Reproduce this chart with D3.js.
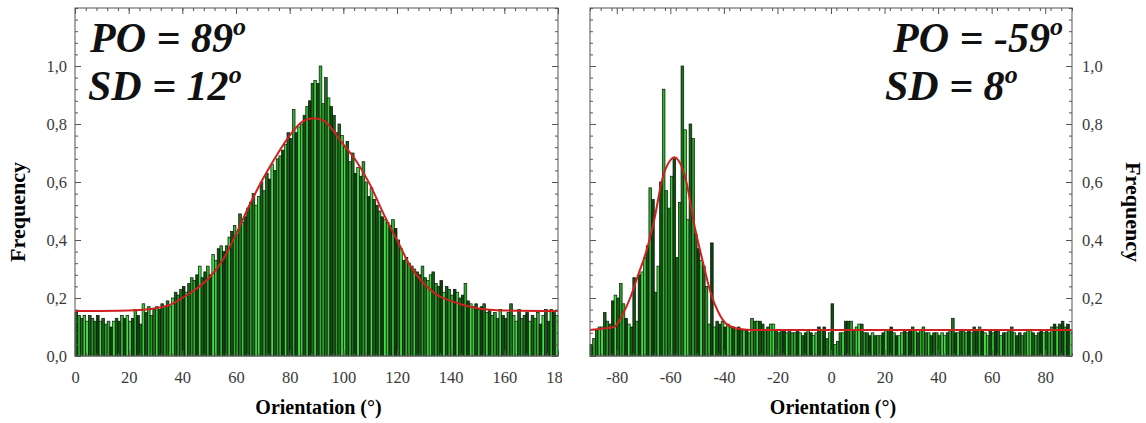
<!DOCTYPE html>
<html lang="en">
  <head>
    <meta charset="UTF-8" />
    <title>Orientation histograms</title>
    <script src="https://cdn.jsdelivr.net/npm/d3@7/dist/d3.min.js"></script>
    <style>
      body { margin: 0; background: #fff; }
      svg { display: block; font-family: 'Liberation Serif', 'DejaVu Serif', serif; }
    </style>
  </head>
  <body>
    <svg class="svg" width="1146" height="423"></svg>
    <script>
      // left panel: 1 degree bins, 0..179
      const leftBins = d3.range(0, 180);
      const leftFreq = [
        0.15, 0.14, 0.13, 0.14, 0.12, 0.14, 0.13, 0.12, 0.14, 0.12,
        0.13, 0.11, 0.12, 0.10, 0.12, 0.13, 0.12, 0.14, 0.13, 0.14,
        0.12, 0.13, 0.16, 0.14, 0.11, 0.18, 0.15, 0.17, 0.14, 0.16,
        0.17, 0.16, 0.18, 0.17, 0.19, 0.17, 0.20, 0.22, 0.21, 0.23,
        0.24, 0.22, 0.25, 0.27, 0.26, 0.28, 0.31, 0.27, 0.29, 0.31,
        0.28, 0.35, 0.33, 0.37, 0.38, 0.36, 0.38, 0.41, 0.43, 0.45,
        0.42, 0.49, 0.46, 0.48, 0.51, 0.53, 0.56, 0.52, 0.55, 0.60,
        0.57, 0.63, 0.61, 0.66, 0.64, 0.68, 0.69, 0.71, 0.73, 0.77,
        0.75, 0.85, 0.77, 0.79, 0.80, 0.83, 0.86, 0.88, 0.94, 0.95,
        0.94, 1.00, 0.87, 0.96, 0.89, 0.86, 0.83, 0.77, 0.80, 0.76,
        0.72, 0.74, 0.67, 0.70, 0.63, 0.65, 0.62, 0.67, 0.60, 0.55,
        0.58, 0.54, 0.52, 0.50, 0.48, 0.47, 0.46, 0.45, 0.47, 0.44,
        0.40, 0.37, 0.33, 0.34, 0.32, 0.31, 0.30, 0.29, 0.28, 0.31,
        0.27, 0.26, 0.28, 0.29, 0.25, 0.24, 0.26, 0.22, 0.24, 0.23,
        0.21, 0.23, 0.22, 0.20, 0.21, 0.25, 0.19, 0.18, 0.17, 0.18,
        0.16, 0.17, 0.18, 0.15, 0.16, 0.14, 0.15, 0.13, 0.16, 0.14,
        0.13, 0.15, 0.18, 0.14, 0.12, 0.16, 0.13, 0.14, 0.15, 0.12,
        0.14, 0.13, 0.15, 0.11, 0.14, 0.16, 0.12, 0.16, 0.15, 0.14
      ];
      // fitted curve
      const leftFitDeg = [0, 20, 30, 35, 40, 45, 50, 55, 60, 65, 70, 75, 80, 85, 89, 93, 96, 100, 105, 110, 115, 120, 125, 130, 135, 140, 145, 150, 160, 180];
      const leftFitVal = [0.155, 0.157, 0.165, 0.175, 0.20, 0.23, 0.27, 0.33, 0.42, 0.52, 0.61, 0.69, 0.76, 0.81, 0.82, 0.81, 0.78, 0.73, 0.67, 0.59, 0.49, 0.40, 0.31, 0.25, 0.21, 0.19, 0.175, 0.165, 0.157, 0.155];

      // right panel: 1 degree bins, -90..89
      const rightBins = d3.range(-90, 90);
      const rightFreq = [
        0.04, 0.06, 0.09, 0.10, 0.10, 0.15, 0.12, 0.11, 0.19, 0.21,
        0.20, 0.25, 0.18, 0.13, 0.11, 0.10, 0.27, 0.12, 0.28, 0.29,
        0.34, 0.38, 0.58, 0.54, 0.22, 0.31, 0.60, 0.92, 0.57, 0.51,
        0.62, 0.68, 0.34, 0.53, 1.00, 0.78, 0.47, 0.80, 0.75, 0.42,
        0.37, 0.33, 0.31, 0.24, 0.11, 0.39, 0.10, 0.12, 0.11, 0.12,
        0.10, 0.11, 0.10, 0.10, 0.09, 0.10, 0.09, 0.09, 0.09, 0.08,
        0.13, 0.12, 0.12, 0.12, 0.11, 0.09, 0.10, 0.11, 0.11, 0.09,
        0.08, 0.09, 0.09, 0.08, 0.09, 0.08, 0.08, 0.09, 0.08, 0.07,
        0.08, 0.09, 0.08, 0.07, 0.08, 0.10, 0.09, 0.10, 0.06, 0.08,
        0.18, 0.04, 0.05, 0.08, 0.08, 0.12, 0.12, 0.12, 0.09, 0.10,
        0.11, 0.11, 0.08, 0.08, 0.07, 0.08, 0.07, 0.07, 0.07, 0.08,
        0.09, 0.09, 0.10, 0.08, 0.07, 0.07, 0.08, 0.09, 0.08, 0.09,
        0.10, 0.09, 0.08, 0.09, 0.10, 0.08, 0.08, 0.07, 0.08, 0.08,
        0.07, 0.08, 0.07, 0.08, 0.09, 0.13, 0.08, 0.08, 0.09, 0.09,
        0.08, 0.09, 0.08, 0.10, 0.09, 0.10, 0.09, 0.08, 0.07, 0.09,
        0.08, 0.09, 0.09, 0.07, 0.08, 0.08, 0.09, 0.10, 0.08, 0.07,
        0.08, 0.07, 0.08, 0.09, 0.09, 0.08, 0.07, 0.08, 0.09, 0.08,
        0.09, 0.08, 0.10, 0.11, 0.10, 0.11, 0.12, 0.10, 0.11, 0.09
      ];
      const rightFitDeg = [-90, -85, -81, -78, -75, -72, -69, -66, -63, -60, -58.5, -57, -54, -51, -48, -45, -42, -39, -35, -30, 90];
      const rightFitVal = [0.09, 0.095, 0.10, 0.14, 0.20, 0.28, 0.36, 0.47, 0.61, 0.675, 0.685, 0.675, 0.60, 0.45, 0.33, 0.22, 0.15, 0.11, 0.095, 0.09, 0.09];

      const leftTicks = [0, 20, 40, 60, 80, 100, 120, 140, 160, 180];
      const rightTicks = [-80, -60, -40, -20, 0, 20, 40, 60, 80];
      const yTicks = [0, 0.2, 0.4, 0.6, 0.8, 1.0];

      const svg = d3.select('.svg');
      const plotTop = 8, plotBottom = 356;
      const greens = ['#1a5c1a', '#3acd3a', '#0f400f', '#2a9c2a', '#144c14', '#44dc44', '#1f6f1f', '#2fb02f'];
      const comma = d3.formatLocale({ decimal: ',', thousands: '.', grouping: [3], currency: ['', ''] }).format('.1f');

      const y = d3.scaleLinear().domain([0, 1.2]).range([plotBottom, plotTop]);

      function panel(opt) {
        const x = d3.scaleLinear().domain(opt.domain).range([opt.x0, opt.x1]);
        const g = svg.append('g');

        // bars
        g.append('g')
          .selectAll('rect')
          .data(opt.bins)
          .join('rect')
          .attr('x', d => x(d))
          .attr('width', d => x(d + 1) - x(d))
          .attr('y', (d, i) => y(opt.freq[i]))
          .attr('height', (d, i) => plotBottom - y(opt.freq[i]))
          .attr('fill', (d, i) => greens[(i * 3 + (i >> 2)) % greens.length])
          .attr('stroke', '#061806')
          .attr('stroke-width', 0.7);

        // fitted curve
        const line = d3.line()
          .x(d => x(d[0]))
          .y(d => y(d[1]))
          .curve(d3.curveMonotoneX);
        g.append('path')
          .datum(opt.fitDeg.map((d, i) => [d, opt.fitVal[i]]))
          .attr('d', line)
          .attr('fill', 'none')
          .attr('stroke', '#d02020')
          .attr('stroke-width', 2);

        // frame
        g.append('rect')
          .attr('x', opt.x0).attr('y', plotTop)
          .attr('width', opt.x1 - opt.x0).attr('height', plotBottom - plotTop)
          .attr('fill', 'none').attr('stroke', '#707070').attr('stroke-width', 1.2);

        const minorX = d3.range(opt.domain[0], opt.domain[1] + 0.1, 4).filter(v => v >= opt.domain[0] && v <= opt.domain[1]);
        const minorY = d3.range(0, 1.201, 0.04);

        function ticks(axis, tr) {
          const a = g.append('g').attr('transform', tr).call(axis);
          a.select('.domain').remove();
          a.selectAll('line').attr('stroke', '#555');
          return a;
        }
        // minor ticks, all sides, inward
        ticks(d3.axisTop(x).tickValues(minorX).tickSize(-3).tickFormat(''), `translate(0,${plotTop})`);
        ticks(d3.axisBottom(x).tickValues(minorX).tickSize(-3).tickFormat(''), `translate(0,${plotBottom})`);
        ticks(d3.axisLeft(y).tickValues(minorY).tickSize(-3).tickFormat(''), `translate(${opt.x0},0)`);
        ticks(d3.axisRight(y).tickValues(minorY).tickSize(-3).tickFormat(''), `translate(${opt.x1},0)`);
        // major ticks
        ticks(d3.axisTop(x).tickValues(opt.ticks).tickSize(-6).tickFormat(''), `translate(0,${plotTop})`);
        ticks(d3.axisLeft(y).tickValues(yTicks).tickSize(-6).tickFormat(''), `translate(${opt.x0},0)`);
        ticks(d3.axisRight(y).tickValues(yTicks).tickSize(-6).tickFormat(''), `translate(${opt.x1},0)`);

        // x tick labels (plain hyphen for negatives)
        const xa = ticks(d3.axisBottom(x).tickValues(opt.ticks).tickSize(-6).tickPadding(15).tickFormat(d => String(d)), `translate(0,${plotBottom})`);
        xa.selectAll('text').attr('font-size', 16.5).attr('fill', '#3a3a3a').attr('font-family', 'Liberation Serif');
        if (opt.clipX) {
          // clip is in the axis group's local space (already shifted down)
          svg.append('clipPath').attr('id', 'clipx').append('rect')
            .attr('x', 0).attr('y', -10).attr('width', opt.clipX).attr('height', 60);
          xa.attr('clip-path', 'url(#clipx)');
        }

        // y tick labels
        const yAxis = opt.yRight
          ? d3.axisRight(y).tickValues(yTicks).tickSize(-6).tickPadding(10).tickFormat(comma)
          : d3.axisLeft(y).tickValues(yTicks).tickSize(-6).tickPadding(8).tickFormat(comma);
        const ya = ticks(yAxis, `translate(${opt.yRight ? opt.x1 : opt.x0},0)`);
        ya.selectAll('text').attr('font-size', 16.5).attr('fill', '#3a3a3a').attr('font-family', 'Liberation Serif');

        // axis titles
        g.append('text')
          .attr('x', (opt.x0 + opt.x1) / 2 + 2).attr('y', 414)
          .attr('text-anchor', 'middle')
          .attr('font-weight', 'bold').attr('font-size', 20)
          .text('Orientation (°)');
        g.append('text')
          .attr('transform', `translate(${opt.freqX},212) rotate(${opt.yRight ? 90 : -90})`)
          .attr('text-anchor', 'middle')
          .attr('font-weight', 'bold').attr('font-size', 22)
          .text('Frequency');

        // annotation
        opt.notes.forEach((n, i) => {
          const t = g.append('text')
            .attr('x', opt.noteX[i]).attr('y', 52 + i * 48)
            .attr('font-weight', 'bold').attr('font-style', 'italic')
            .attr('font-size', 42).attr('fill', '#111');
          t.append('tspan').text(n);
          t.append('tspan').attr('dy', -17).attr('font-size', 26).text('o');
        });
      }

      panel({
        domain: [0, 180], x0: 75, x1: 558, bins: leftBins, freq: leftFreq,
        fitDeg: leftFitDeg, fitVal: leftFitVal, ticks: leftTicks, clipX: 562,
        yRight: false, freqX: 25, noteX: [90, 88],
        notes: ['PO = 89', 'SD = 12']
      });
      panel({
        domain: [-90, 90], x0: 590, x1: 1072, bins: rightBins, freq: rightFreq,
        fitDeg: rightFitDeg, fitVal: rightFitVal, ticks: rightTicks,
        yRight: true, freqX: 1126, noteX: [893, 885],
        notes: ['PO = -59', 'SD = 8']
      });
    </script>
  </body>
</html>
